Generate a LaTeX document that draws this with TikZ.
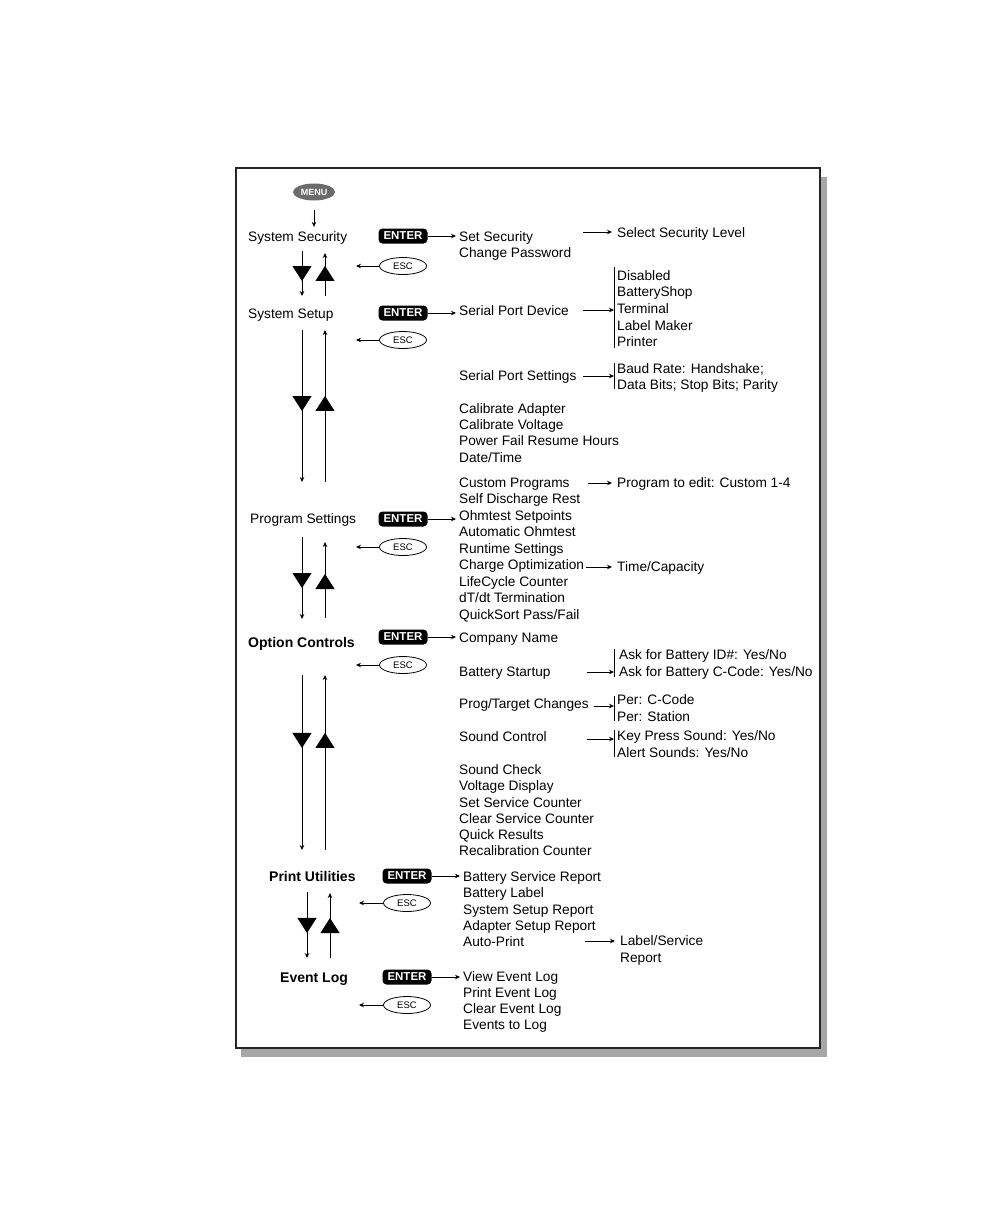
\documentclass[tikz,border=0pt]{standalone}
\usepackage{fontspec}
\setmainfont{Liberation Sans}
\usetikzlibrary{shapes.geometric, arrows.meta, decorations.markings}

\begin{document}
\begin{tikzpicture}[x=1pt, y=-1pt, >={Stealth[length=5pt, width=4.5pt]},
		font=\fontsize{13.7}{16}\selectfont,
		item/.style={anchor=base west, inner sep=0pt},
		boldtitle/.style={anchor=base west, inner sep=0pt, font=\fontsize{14}{16}\selectfont\bfseries},
		enterkey/.style={fill=black, text=white, rounded corners=4pt, minimum width=49pt, minimum height=15pt, inner sep=0pt, font=\fontsize{11.5}{12}\selectfont\bfseries},
		esckey/.style={draw, ellipse, minimum width=47pt, minimum height=17pt, inner sep=0pt, line width=0.8pt, font=\fontsize{9.5}{10}\selectfont},
		menukey/.style={ellipse, fill=black!58, text=white, minimum width=42pt, minimum height=17pt, inner sep=0pt, font=\fontsize{9}{9}\selectfont\bfseries},
		link/.style={->, line width=0.9pt},
		enterlink/.style={->, line width=0.9pt, shorten >=3pt},
		textlink/.style={->, line width=0.9pt, shorten >=5pt},
		bracket/.style={line width=0.9pt},
		bigtip/.style={postaction={decorate, decoration={markings, mark=at position #1 with {\arrow{Triangle[length=15pt, width=19pt]}}}}}]

	% page and frame
	\fill[white] (0,0) rectangle (1008,1224);
	\useasboundingbox (0,0) rectangle (1008,1224);
	\fill[black!35] (241,177) rectangle (827,1057);
	\draw[black!85, line width=1.5pt, fill=white] (236,168) rectangle (820,1048);

	% left column
	\node[menukey] (menu) at (314,192) {MENU};
	\node[item] (syssec) at (248,241) {System Security};
	\node[item] (syssetup) at (248,318) {System Setup};
	\node[item] (progset) at (250,523) {Program Settings};
	\node[boldtitle] (optctl) at (248,647) {Option Controls};
	\node[boldtitle] (printutil) at (269,881) {Print Utilities};
	\node[boldtitle] (eventlog) at (280,982) {Event Log};
	\draw[link, shorten <=9pt, shorten >=4pt] (menu.south) -- (menu |- syssec.north);

	% keys
	\node[enterkey] (ent1) at (403,236) {ENTER};
	\node[enterkey] (ent2) at (403,313) {ENTER};
	\node[enterkey] (ent3) at (403,519) {ENTER};
	\node[enterkey] (ent4) at (403,637) {ENTER};
	\node[enterkey] (ent5) at (407,876) {ENTER};
	\node[enterkey] (ent6) at (407,977) {ENTER};
	\node[esckey] (esc1) at (403,266) {ESC};
	\node[esckey] (esc2) at (403,340) {ESC};
	\node[esckey] (esc3) at (403,547) {ESC};
	\node[esckey] (esc4) at (403,665) {ESC};
	\node[esckey] (esc5) at (407,903) {ESC};
	\node[esckey] (esc6) at (407,1005) {ESC};
	\coordinate (back1) at (356,266);
	\coordinate (back2) at (356,340);
	\coordinate (back3) at (356,547);
	\coordinate (back4) at (356,665);
	\coordinate (back5) at (359,903);
	\coordinate (back6) at (359,1005);
	\draw[link] (esc1) -- (back1);
	\draw[link] (esc2) -- (back2);
	\draw[link] (esc3) -- (back3);
	\draw[link] (esc4) -- (back4);
	\draw[link] (esc5) -- (back5);
	\draw[link] (esc6) -- (back6);

	% up and down between menus
	\coordinate (dn1a) at (302,251); \coordinate (dn1b) at (302,296);
	\coordinate (up1a) at (325,296); \coordinate (up1b) at (325,253);
	\coordinate (dn2a) at (302,330); \coordinate (dn2b) at (302,482);
	\coordinate (up2a) at (325,482); \coordinate (up2b) at (325,330);
	\coordinate (dn3a) at (302,537); \coordinate (dn3b) at (302,619);
	\coordinate (up3a) at (325,618); \coordinate (up3b) at (325,542);
	\coordinate (dn4a) at (302,675); \coordinate (dn4b) at (302,850);
	\coordinate (up4a) at (325,850); \coordinate (up4b) at (325,675);
	\coordinate (dn5a) at (307,892); \coordinate (dn5b) at (307,958);
	\coordinate (up5a) at (330,958); \coordinate (up5b) at (330,893);
	\draw[link, bigtip=0.667] (dn1a) -- (dn1b);
	\draw[link, bigtip=0.698] (up1a) -- (up1b);
	\draw[link, bigtip=0.533] (dn2a) -- (dn2b);
	\draw[link, bigtip=0.566] (up2a) -- (up2b);
	\draw[link, bigtip=0.622] (dn3a) -- (dn3b);
	\draw[link, bigtip=0.579] (up3a) -- (up3b);
	\draw[link, bigtip=0.417] (dn4a) -- (dn4b);
	\draw[link, bigtip=0.669] (up4a) -- (up4b);
	\draw[link, bigtip=0.621] (dn5a) -- (dn5b);
	\draw[link, bigtip=0.615] (up5a) -- (up5b);

	% System Security
	\node[item] (setsec) at (459,241) {Set Security};
	\node[item] (chgpw) at (459,257) {Change Password};
	\node[item] (selsec) at (617,237) {Select Security Level};
	\coordinate (tosel) at (583,232);
	\draw[enterlink] (ent1) -- (ent1 -| setsec.west);
	\draw[textlink] (tosel) -- (tosel -| selsec.west);

	% System Setup
	\node[item] (spdev) at (459,315) {Serial Port Device};
	\node[item] (disabled) at (617,280) {Disabled};
	\node[item] (batshop) at (617,296.5) {BatteryShop};
	\node[item] (terminal) at (617,313) {Terminal};
	\node[item] (labelmk) at (617,330) {Label Maker};
	\node[item] (printer) at (617,346.5) {Printer};
	\coordinate (br1a) at (614,267); \coordinate (br1b) at (614,348);
	\draw[bracket] (br1a) -- (br1b);
	\coordinate (todev) at (583,310);
	\draw[enterlink] (ent2) -- (ent2 -| spdev.west);
	\draw[link] (todev) -- (todev -| br1a);
	\node[item] (spset) at (459,380) {Serial Port Settings};
	\node[item] (baud) at (617,373) {Baud Rate: Handshake;};
	\node[item] (databits) at (617,389) {Data Bits; Stop Bits; Parity};
	\coordinate (br2a) at (614,363); \coordinate (br2b) at (614,389);
	\draw[bracket] (br2a) -- (br2b);
	\coordinate (toset) at (583,376);
	\draw[link] (toset) -- (toset -| br2a);
	\node[item] (calad) at (459,413) {Calibrate Adapter};
	\node[item] (calvolt) at (459,429) {Calibrate Voltage};
	\node[item] (pwrfail) at (459,445) {Power Fail Resume Hours};
	\node[item] (datetime) at (459,462) {Date/Time};

	% Program Settings
	\node[item] (custprog) at (459,487) {Custom Programs};
	\node[item] (selfdis) at (459,503.5) {Self Discharge Rest};
	\node[item] (ohmset) at (459,520) {Ohmtest Setpoints};
	\node[item] (autohm) at (459,536.5) {Automatic Ohmtest};
	\node[item] (runtime) at (459,553) {Runtime Settings};
	\node[item] (chgopt) at (459,569.5) {Charge Optimization};
	\node[item] (lifecyc) at (459,586) {LifeCycle Counter};
	\node[item] (dtdt) at (459,602.5) {dT/dt Termination};
	\node[item] (qsort) at (459,619) {QuickSort Pass/Fail};
	\node[item] (progedit) at (617,487) {Program to edit: Custom 1-4};
	\node[item] (timecap) at (617,571) {Time/Capacity};
	\coordinate (toedit) at (588,483);
	\coordinate (tocap) at (586,567);
	\draw[enterlink] (ent3) -- (ent3 -| ohmset.west);
	\draw[textlink] (toedit) -- (toedit -| progedit.west);
	\draw[textlink] (tocap) -- (tocap -| timecap.west);

	% Option Controls
	\node[item] (company) at (459,642) {Company Name};
	\draw[enterlink] (ent4) -- (ent4 -| company.west);
	\node[item] (batstart) at (459,676) {Battery Startup};
	\node[item] (askid) at (619,659) {Ask for Battery ID\#: Yes/No};
	\node[item] (askcc) at (619,676) {Ask for Battery C-Code: Yes/No};
	\coordinate (br3a) at (614,649); \coordinate (br3b) at (614,677);
	\draw[bracket] (br3a) -- (br3b);
	\coordinate (tostart) at (587,672);
	\draw[link] (tostart) -- (tostart -| br3a);
	\node[item] (progtgt) at (459,708) {Prog/Target Changes};
	\node[item] (perc) at (617,704) {Per: C-Code};
	\node[item] (pers) at (617,721) {Per: Station};
	\coordinate (br4a) at (614,696); \coordinate (br4b) at (614,721);
	\draw[bracket] (br4a) -- (br4b);
	\coordinate (totgt) at (594,706);
	\draw[link] (totgt) -- (totgt -| br4a);
	\node[item] (sndctl) at (459,741) {Sound Control};
	\node[item] (keypress) at (617,740) {Key Press Sound: Yes/No};
	\node[item] (alertsnd) at (617,757) {Alert Sounds: Yes/No};
	\coordinate (br5a) at (614,730); \coordinate (br5b) at (614,757);
	\draw[bracket] (br5a) -- (br5b);
	\coordinate (tosnd) at (587,739);
	\draw[link] (tosnd) -- (tosnd -| br5a);
	\node[item] (sndchk) at (459,774) {Sound Check};
	\node[item] (voltdisp) at (459,790) {Voltage Display};
	\node[item] (setsvc) at (459,807) {Set Service Counter};
	\node[item] (clrsvc) at (459,823) {Clear Service Counter};
	\node[item] (qres) at (459,839) {Quick Results};
	\node[item] (recal) at (459,855) {Recalibration Counter};

	% Print Utilities
	\node[item] (batsvc) at (463,881) {Battery Service Report};
	\node[item] (batlabel) at (463,897) {Battery Label};
	\node[item] (sysrep) at (463,914) {System Setup Report};
	\node[item] (adaprep) at (463,930) {Adapter Setup Report};
	\node[item] (autoprint) at (463,946) {Auto-Print};
	\node[item] (lblsvc) at (620,945) {Label/Service};
	\node[item] (lblrep) at (620,962) {Report};
	\coordinate (tolabel) at (585,941);
	\draw[enterlink] (ent5) -- (ent5 -| batsvc.west);
	\draw[textlink] (tolabel) -- (tolabel -| lblsvc.west);

	% Event Log
	\node[item] (viewlog) at (463,981) {View Event Log};
	\node[item] (printlog) at (463,997) {Print Event Log};
	\node[item] (clrlog) at (463,1013) {Clear Event Log};
	\node[item] (evtolog) at (463,1029) {Events to Log};
	\draw[enterlink] (ent6) -- (ent6 -| viewlog.west);
\end{tikzpicture}
\end{document}
